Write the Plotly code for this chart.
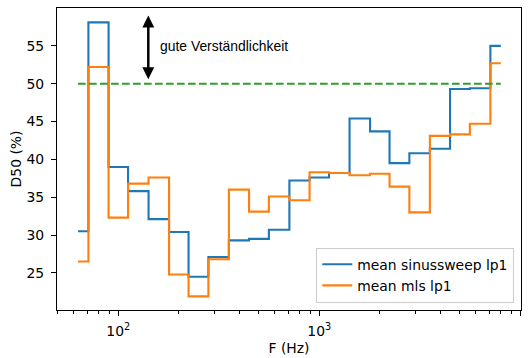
import math
import plotly.graph_objects as go

# third-octave band centre frequencies (Hz)
freqs = [63, 80, 100, 125, 160, 200, 250, 315, 400, 500, 630, 800,
         1000, 1250, 1600, 2000, 2500, 3150, 4000, 5000, 6300, 8000]

# mean D50 per band (%)
d50_sweep = [30.5, 58.1, 39.0, 35.8, 32.1, 30.4, 24.5, 27.1, 29.3, 29.5, 30.7, 37.2,
             37.6, 38.2, 45.4, 43.7, 39.5, 40.8, 41.4, 49.3, 49.4, 55.0]
d50_mls = [26.5, 52.2, 32.3, 36.8, 37.6, 24.8, 21.9, 26.8, 36.0, 33.1, 35.1, 34.6,
           38.3, 38.2, 37.9, 38.1, 36.4, 33.0, 43.1, 43.3, 44.7, 52.7]

threshold = 50
names = ["mean sinussweep lp1", "mean mls lp1"]
colors = ["#1f77b4", "#ff7f0e"]

FONT = "DejaVu Sans"
FS = 13.9

fig = go.Figure()
for vals, name, col in zip([d50_sweep, d50_mls], names, colors):
    fig.add_trace(go.Scatter(
        x=freqs, y=vals, mode="lines", name=name,
        line=dict(color=col, width=2.1, shape="hvh"),
    ))

# threshold for good intelligibility
fig.add_trace(go.Scatter(
    x=[freqs[0], freqs[-1]], y=[threshold, threshold], mode="lines",
    line=dict(color="#2ca02c", width=2.1, dash="7.7px,3.3px"),
    showlegend=False, hoverinfo="skip",
))

arrow_x = math.log10(141)
fig.add_annotation(
    x=arrow_x, y=50.6, ax=arrow_x, ay=59.2,
    xref="x", yref="y", axref="x", ayref="y",
    text="", showarrow=True, arrowside="end+start",
    arrowhead=2, startarrowhead=2, arrowsize=0.95, startarrowsize=0.95,
    arrowwidth=2.5, arrowcolor="black", standoff=0, startstandoff=0,
)
fig.add_annotation(
    x=math.log10(157.5), y=55, xref="x", yref="y",
    text="gute Verständlichkeit", showarrow=False,
    xanchor="left", yanchor="middle",
    font=dict(family="Liberation Sans", size=FS, color="black"),
)

minor_x = [m * 10 ** e for e in (1, 2, 3) for m in range(2, 10)]
minor_x = [v for v in minor_x if 49 < v < 10100 and v not in (100, 1000, 10000)]

axis_common = dict(
    showline=True, linecolor="black", linewidth=1, mirror=True,
    ticks="outside", ticklen=5, tickwidth=1.1, tickcolor="black",
    showgrid=False, zeroline=False,
    tickfont=dict(family=FONT, size=FS, color="black"),
)

fig.update_xaxes(
    type="log", range=[1.695, 4.0035],
    tickmode="array", tickvals=[100, 1000, 10000],
    ticktext=["10<sup>2</sup>", "10<sup>3</sup>", "10<sup>4</sup>"],
    minor=dict(tickmode="array", tickvals=minor_x, ticklen=2.8,
               tickwidth=0.8, tickcolor="black", ticks="outside"),
    title=dict(text="F (Hz)", font=dict(family=FONT, size=FS, color="black"),
               standoff=5),
    ticklabelstandoff=3,
    **axis_common,
)
fig.update_yaxes(
    range=[20.1, 60.0],
    tickmode="array", tickvals=[25, 30, 35, 40, 45, 50, 55],
    title=dict(text="D50 (%)", font=dict(family=FONT, size=FS, color="black"),
               standoff=1),
    ticklabelstandoff=4,
    **axis_common,
)

fig.update_layout(
    width=531, height=358,
    margin=dict(l=56.7, r=10.3, t=8.3, b=48, autoexpand=False),
    paper_bgcolor="white", plot_bgcolor="white",
    font=dict(family=FONT, size=FS, color="black"),
    showlegend=True,
    legend=dict(
        x=0.9855, y=0.024, xanchor="right", yanchor="bottom",
        bgcolor="rgba(255,255,255,0.8)", bordercolor="#cccccc", borderwidth=1,
        font=dict(family=FONT, size=FS, color="black"),
        tracegroupgap=0,
    ),
)

fig.write_html("out.html")
